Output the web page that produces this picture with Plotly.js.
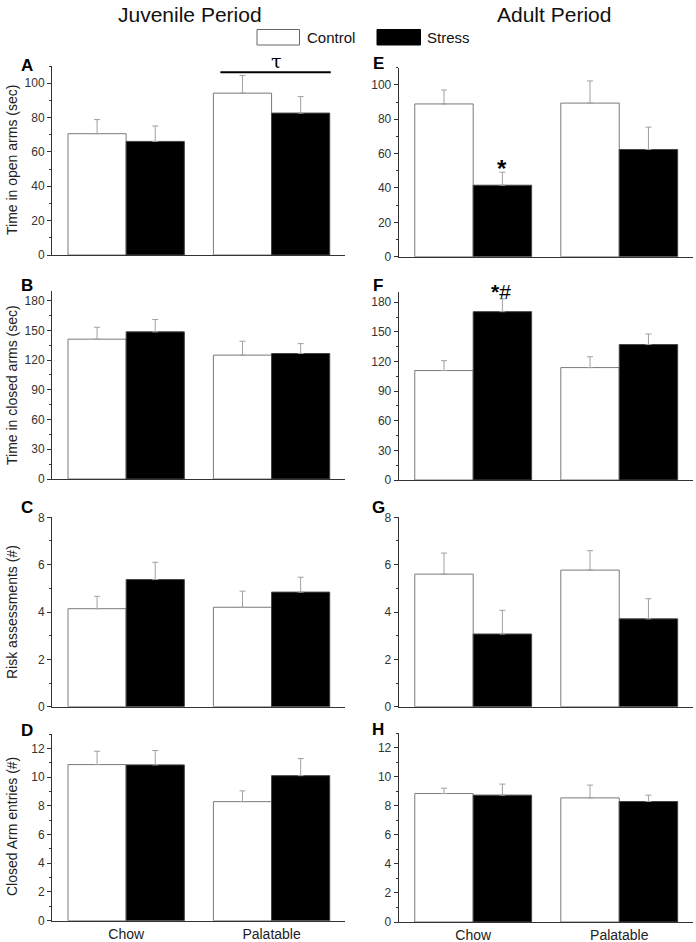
<!DOCTYPE html>
<html>
<head>
<meta charset="utf-8">
<script src="https://cdn.plot.ly/plotly-3.0.1.min.js"></script>
<style>html,body{margin:0;padding:0;background:#fff}#chart{width:696px;height:942px}</style>
</head>
<body>
<div id="chart"></div>
<script>
// ---------- DATA ----------
const categories = ["Chow", "Palatable"];
const groupNames = ["Control", "Stress"];
const periodTitles = ["Juvenile Period", "Adult Period"];
const yTitles = ["Time in open arms (sec)", "Time in closed arms (sec)", "Risk assessments (#)", "Closed Arm entries (#)"];
const panelLetters = ["A", "B", "C", "D", "E", "F", "G", "H"];

// Juvenile period
const juvOpenControl = [70.6, 94.2];
const juvOpenControlErr = [8.2, 10.3];
const juvOpenStress = [66.1, 82.6];
const juvOpenStressErr = [9.0, 9.6];

const juvClosedControl = [141.1, 125.0];
const juvClosedControlErr = [12.0, 14.0];
const juvClosedStress = [148.5, 126.6];
const juvClosedStressErr = [12.4, 10.0];

const juvRiskControl = [4.14, 4.20];
const juvRiskControlErr = [0.52, 0.68];
const juvRiskStress = [5.37, 4.84];
const juvRiskStressErr = [0.73, 0.63];

const juvEntriesControl = [10.87, 8.29];
const juvEntriesControlErr = [0.93, 0.75];
const juvEntriesStress = [10.85, 10.10];
const juvEntriesStressErr = [1.00, 1.19];

// Adult period
const adOpenControl = [88.9, 89.4];
const adOpenControlErr = [8.1, 12.9];
const adOpenStress = [41.6, 62.4];
const adOpenStressErr = [7.6, 13.0];

const adClosedControl = [110.8, 113.8];
const adClosedControlErr = [10.0, 11.0];
const adClosedStress = [170.4, 137.1];
const adClosedStressErr = [13.0, 10.7];

const adRiskControl = [5.60, 5.77];
const adRiskControlErr = [0.89, 0.82];
const adRiskStress = [3.07, 3.71];
const adRiskStressErr = [1.00, 0.85];

const adEntriesControl = [8.85, 8.55];
const adEntriesControlErr = [0.37, 0.88];
const adEntriesStress = [8.74, 8.30];
const adEntriesStressErr = [0.76, 0.44];

// ---------- BUILD ----------
const panels = [
  {c: juvOpenControl, ce: juvOpenControlErr, s: juvOpenStress, se: juvOpenStressErr},
  {c: juvClosedControl, ce: juvClosedControlErr, s: juvClosedStress, se: juvClosedStressErr},
  {c: juvRiskControl, ce: juvRiskControlErr, s: juvRiskStress, se: juvRiskStressErr},
  {c: juvEntriesControl, ce: juvEntriesControlErr, s: juvEntriesStress, se: juvEntriesStressErr},
  {c: adOpenControl, ce: adOpenControlErr, s: adOpenStress, se: adOpenStressErr},
  {c: adClosedControl, ce: adClosedControlErr, s: adClosedStress, se: adClosedStressErr},
  {c: adRiskControl, ce: adRiskControlErr, s: adRiskStress, se: adRiskStressErr},
  {c: adEntriesControl, ce: adEntriesControlErr, s: adEntriesStress, se: adEntriesStressErr}
];

const W = 696, H = 942;
const px = v => v / W;
const py = v => 1 - v / H;

// style / layout settings
const xDomLeft = [px(52), px(345)];
const xDomRight = [px(398.7), px(693)];
const yDoms = [
  [py(255), py(66)], [py(479), py(290.7)], [py(706.7), py(517.3)], [py(920.7), py(734)],
  [py(256.7), py(67.7)], [py(480), py(292.3)], [py(706.7), py(517.3)], [py(922), py(733.3)]
];
const yRanges = [[0, 110], [0, 190], [0, 8], [0, 13], [0, 110], [0, 190], [0, 8], [0, 13]];
const yDticks = [20, 30, 2, 2, 20, 30, 2, 2];
const yMinor = [10, 15, 1, 1, 10, 15, 1, 1];

const font = "Liberation Sans, Arial, sans-serif";
const traces = [];
const layout = {
  width: W, height: H,
  margin: {l: 0, r: 0, t: 0, b: 0},
  paper_bgcolor: "#fff", plot_bgcolor: "#fff",
  barmode: "group", bargap: 0.2, bargroupgap: 0,
  showlegend: false,
  font: {family: font, color: "#222"},
  annotations: [], shapes: []
};

panels.forEach((p, i) => {
  const n = i + 1;
  const xa = "x" + (n === 1 ? "" : n);
  const ya = "y" + (n === 1 ? "" : n);
  const errStyle = {type: "data", symmetric: false, color: "#a0a0a0", thickness: 1, width: 3};
  traces.push({
    type: "bar", name: groupNames[0], x: categories, y: p.c, xaxis: xa, yaxis: ya,
    marker: {color: "#ffffff", line: {color: "#7a7a7a", width: 1}},
    error_y: Object.assign({array: p.ce, arrayminus: p.c.map(() => 0)}, errStyle)
  });
  traces.push({
    type: "bar", name: groupNames[1], x: categories, y: p.s, xaxis: xa, yaxis: ya,
    marker: {color: "#000000", line: {color: "#444", width: 1}},
    error_y: Object.assign({array: p.se, arrayminus: p.s.map(() => 0)}, errStyle)
  });
  const isBottom = (i === 3 || i === 7);
  layout["xaxis" + (n === 1 ? "" : n)] = {
    domain: i < 4 ? xDomLeft : xDomRight,
    anchor: ya, type: "category",
    range: [-0.51, 1.505], fixedrange: true,
    showline: true, linecolor: "#333", linewidth: 1,
    ticks: "", showgrid: false, zeroline: false,
    showticklabels: isBottom,
    tickfont: {family: font, size: 14, color: "#222"}
  };
  layout["yaxis" + (n === 1 ? "" : n)] = {
    domain: yDoms[i], anchor: xa,
    range: yRanges[i], dtick: yDticks[i], tick0: 0,
    showline: true, linecolor: "#333", linewidth: 1,
    ticks: "outside", ticklen: 4, tickcolor: "#333",
    minor: {dtick: yMinor[i], ticks: "outside", ticklen: 2, tickcolor: "#333", showgrid: false},
    showgrid: false, zeroline: false,
    tickfont: {family: font, size: 12, color: "#333"}
  };
  // panel letter
  const letterX = i < 4 ? 27 : 378;
  const letterY = [66, 285, 507, 730, 64, 285, 507, 729][i];
  layout.annotations.push({
    text: "<b>" + panelLetters[i] + "</b>", xref: "paper", yref: "paper",
    x: px(letterX), y: py(letterY), xanchor: "center", yanchor: "middle",
    showarrow: false, font: {family: font, size: 17, color: "#000"}
  });
});

// y-axis titles (left column)
const titleCenters = [160, 385, 612, 827];
yTitles.forEach((t, k) => {
  layout.annotations.push({
    text: t, xref: "paper", yref: "paper", x: px(12), y: py(titleCenters[k]),
    xanchor: "center", yanchor: "middle", textangle: -90, showarrow: false,
    font: {family: font, size: 14, color: "#222"}
  });
});

// period titles
layout.annotations.push({
  text: periodTitles[0], xref: "paper", yref: "paper", x: px(190), y: py(15),
  xanchor: "center", yanchor: "middle", showarrow: false,
  font: {family: font, size: 21, color: "#111"}
});
layout.annotations.push({
  text: periodTitles[1], xref: "paper", yref: "paper", x: px(554), y: py(15),
  xanchor: "center", yanchor: "middle", showarrow: false,
  font: {family: font, size: 21, color: "#111"}
});

// legend (swatches + text)
layout.shapes.push({type: "rect", xref: "paper", yref: "paper",
  x0: px(257), x1: px(299.5), y0: py(45), y1: py(29.5),
  fillcolor: "#fff", line: {color: "#666", width: 1}});
layout.shapes.push({type: "rect", xref: "paper", yref: "paper",
  x0: px(377), x1: px(420.5), y0: py(45), y1: py(29.5),
  fillcolor: "#000", line: {color: "#000", width: 1}});
layout.annotations.push({
  text: groupNames[0], xref: "paper", yref: "paper", x: px(305), y: py(37.5),
  xanchor: "left", yanchor: "middle", showarrow: false,
  font: {family: font, size: 15, color: "#111"}
});
layout.annotations.push({
  text: groupNames[1], xref: "paper", yref: "paper", x: px(425), y: py(37.5),
  xanchor: "left", yanchor: "middle", showarrow: false,
  font: {family: font, size: 15, color: "#111"}
});

// significance marks
layout.shapes.push({type: "line", xref: "x", yref: "y", x0: 0.648, x1: 1.407, y0: 106.4, y1: 106.4,
  line: {color: "#000", width: 2}});
layout.annotations.push({text: "τ", xref: "paper", yref: "paper", x: px(276), y: py(61),
  xanchor: "center", yanchor: "middle", showarrow: false,
  font: {family: "DejaVu Serif, serif", size: 19, color: "#000"}});
layout.annotations.push({text: "<b>*</b>", xref: "paper", yref: "paper", x: px(502), y: py(169),
  xanchor: "center", yanchor: "middle", showarrow: false, font: {family: font, size: 24, color: "#000"}});
layout.annotations.push({text: "<b>*</b>#", xref: "paper", yref: "paper", x: px(501), y: py(291),
  xanchor: "center", yanchor: "middle", showarrow: false, font: {family: font, size: 21, color: "#000"}});

Plotly.newPlot("chart", traces, layout, {staticPlot: true, displayModeBar: false});
</script>
</body>
</html>
